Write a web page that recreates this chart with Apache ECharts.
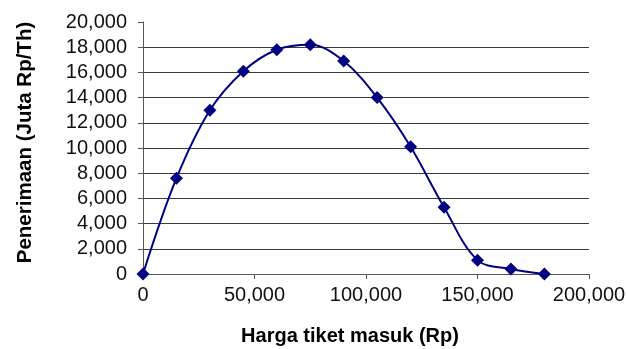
<!DOCTYPE html>
<html>
<head>
<meta charset="utf-8">
<script src="https://cdn.jsdelivr.net/npm/echarts@6/dist/echarts.min.js"></script>
<style>
  html, body { margin: 0; padding: 0; background: #fff; }
  #chart { width: 627px; height: 349px; }
</style>
</head>
<body>
<div id="chart"></div>
<script>
// harga tiket (Rp) dan penerimaan (Juta Rp/Th)
var hargaTiket = [0, 15000, 30000, 45000, 60000, 75000, 90000, 105000, 120000, 135000, 150000, 165000, 180000];
var penerimaan = [0, 7600, 13000, 16100, 17800, 18200, 16900, 14000, 10100, 5300, 1100, 400, 0];

var xTicks = [0, 50000, 100000, 150000, 200000];
var yTicks = [0, 2000, 4000, 6000, 8000, 10000, 12000, 14000, 16000, 18000, 20000];

document.addEventListener("DOMContentLoaded", function () {
  var myChart = echarts.init(document.getElementById('chart'));

  function fmt(v) {
    return v.toString().replace(/\B(?=(\d{3})+(?!\d))/g, ',');
  }

  var data = hargaTiket.map(function (x, i) { return [x, penerimaan[i]]; });

  // garis grid: yang paling atas (20,000) tidak digambar
  var gridColors = yTicks.map(function (v, i) {
    return i === yTicks.length - 1 ? 'rgba(0,0,0,0)' : '#3a3a3a';
  });

  var font = 'Liberation Sans, Arial, sans-serif';

  var option = {
    animation: false,
    grid: { left: 143, right: 38, top: 22, bottom: 75, outerBoundsMode: 'none', containLabel: false },
    xAxis: {
      type: 'value',
      min: xTicks[0],
      max: xTicks[xTicks.length - 1],
      interval: 50000,
      name: 'Harga tiket masuk (Rp)',
      nameLocation: 'middle',
      nameGap: 52,
      nameMoveOverlap: false,
      nameTextStyle: { fontFamily: font, fontWeight: 'bold', fontSize: 20, color: '#000', padding: [0, 32, 0, 0] },
      axisLine: { show: true, onZero: false, lineStyle: { color: '#555', width: 1 } },
      axisTick: { show: true, inside: false, length: 5, lineStyle: { color: '#555' } },
      axisLabel: { fontFamily: font, fontSize: 20, color: '#111', margin: 11, formatter: fmt },
      splitLine: { show: false }
    },
    yAxis: {
      type: 'value',
      min: yTicks[0],
      max: yTicks[yTicks.length - 1],
      interval: 2000,
      name: 'Penerimaan (Juta Rp/Th)',
      nameLocation: 'middle',
      nameGap: 107,
      nameMoveOverlap: false,
      nameTextStyle: { fontFamily: font, fontWeight: 'bold', fontSize: 20.5, color: '#000', padding: [0, 0, 0, 11] },
      axisLine: { show: true, lineStyle: { color: '#555', width: 1 } },
      axisTick: { show: true, inside: false, length: 5, lineStyle: { color: '#555' } },
      axisLabel: { fontFamily: font, fontSize: 20, color: '#111', margin: 16, formatter: fmt },
      splitLine: { show: true, lineStyle: { color: gridColors, width: 1.2 } }
    },
    series: [{
      type: 'line',
      data: data,
      smooth: 0.35,
      symbol: 'path://M0,-1L1,0L0,1L-1,0Z',
      symbolSize: 13,
      showSymbol: true,
      lineStyle: { color: '#000080', width: 2 },
      itemStyle: { color: '#000080' }
    }]
  };

  myChart.setOption(option);
});
</script>
</body>
</html>
